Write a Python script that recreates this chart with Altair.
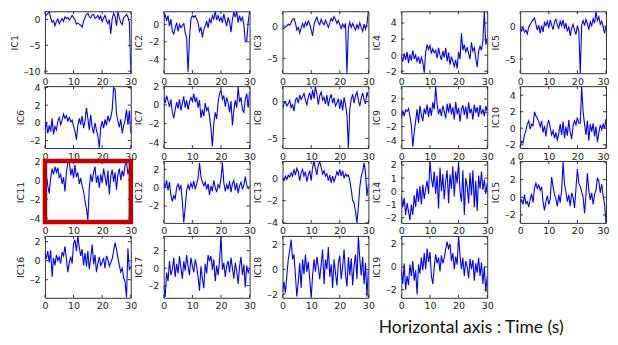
import altair as alt
import pandas as pd

ic1 = [0.6, 0.9, 1.2, 1.5, 0.3, -0.5, -0.2, -1.2, -0.4, 0.1,
       -0.8, -0.3, 0.2, -0.4, 0.5, 0.2, 0.4, -0.1, 0.3, 0.8,
       0.4, 0.0, -0.9, -0.7, -0.9, -1.1, -1.5, -0.3, 0.4, 1.0,
       1.2, 0.5, 0.3, 0.9, 1.0, 0.2, 0.4, 0.8, 0.1, 0.7,
       -0.4, 0.3, 0.8, -0.2, -0.8, 0.0, -2.8, 0.2, 1.2, 0.6,
       -1.2, 1.5, 0.3, -0.6, -1.0, 0.4, 0.6, 1.0, 0.5, -0.5, -10.3]
ic2 = [0.8, 1.1, 0.4, 1.0, -0.2, 0.6, -0.8, -1.1, -0.4, 0.2,
       -0.8, 0.0, -0.4, -0.1, 0.1, -1.0, -1.5, -5.5, -1.5, 0.6,
       1.0, 0.8, 1.0, 0.6, 0.2, -0.8, -0.4, -1.5, -0.6, -0.2,
       0.4, -0.4, 0.6, 0.2, 1.0, 0.6, 1.5, 0.5, 1.0, 0.4,
       0.8, 0.2, 1.2, 0.4, -0.2, 0.8, 0.3, -0.9, 0.6, 1.4,
       0.8, 1.5, 0.2, 1.0, 0.4, 0.8, 0.0, -2.0, -1.9, 0.2, 1.5]
ic3 = [-0.5, -0.3, -0.2, 0.0, 0.3, 0.1, 0.6, 1.0, 1.2, 0.5,
       -0.6, -0.2, -1.1, -0.3, 0.4, -0.2, 0.6, 0.1, 0.8, 0.3,
       -0.6, -1.5, 0.2, 0.9, 1.4, 0.6, 0.2, 1.1, 0.5, 0.2,
       0.9, 0.4, -0.2, 0.5, 1.2, 0.8, 1.5, 1.0, 0.4, 0.9,
       0.2, -0.4, 0.3, -0.2, 0.4, -7.3, -0.3, 0.6, -0.2, 0.4,
       -0.1, -0.6, 0.2, -0.4, 0.5, -0.2, -0.8, 0.3, -0.5, 0.4, 2.3]
ic4 = [-0.2, -0.8, 0.2, -0.6, 0.4, -1.0, 0.1, -0.7, 0.6, -0.5,
       0.0, -0.8, -0.2, -1.1, -0.3, -0.9, -2.2, 0.4, 1.3, 0.7,
       1.2, 0.2, 0.8, 0.3, 0.6, -0.4, 0.9, 0.0, -0.6, 0.5,
       -0.3, 0.9, -0.8, 0.3, -1.2, -0.2, -0.8, -1.4, -0.6, -1.7,
       0.4, -0.5, 2.7, 0.6, 1.3, 0.4, 0.9, 0.2, -0.5, 1.6,
       0.5, 0.9, -0.4, -1.5, 0.5, 1.1, 0.6, 1.8, 5.4, 1.3, 2.0]
ic5 = [-0.2, -0.6, 0.0, -0.8, -0.5, -1.1, 0.0, 0.4, 0.8, 1.1,
       1.4, 0.5, -0.5, 0.3, -1.0, 0.2, -0.8, 0.7, 0.2, 0.9,
       -0.2, 1.1, 0.3, -0.4, 0.8, 1.2, 0.3, -0.2, 0.9, 0.2,
       1.1, -0.3, 0.6, -0.7, 0.1, -1.4, -0.2, 0.4, -0.5, -1.2,
       0.2, -0.6, -7.2, 0.3, 1.0, 0.2, 1.2, 0.5, -0.4, 0.8,
       0.2, 1.3, 0.6, 2.4, 1.0, 1.6, 0.4, 0.9, 0.0, -1.0, 0.3]
ic6 = [-0.9, 0.1, -1.2, -0.3, -1.0, 0.5, -1.3, -0.4, -0.8, 0.2,
       0.6, -0.2, 0.3, 1.0, 0.5, 0.8, 0.2, 0.6, 0.1, 0.3,
       -0.4, -1.0, -1.9, -0.3, 0.5, -0.2, 0.8, -0.6, 0.2, 1.7,
       0.5, -0.8, 0.9, -0.5, -1.2, 0.0, -0.8, -1.5, -2.8, -0.5,
       0.2, -0.6, 0.4, -0.3, 0.8, 0.2, 0.6, 1.5, 4.0, 3.8,
       1.0, 0.2, -0.5, 0.4, -1.2, -0.3, 0.3, 1.5, -0.2, 1.4, -1.2]
ic7 = [0.8, 0.2, 1.0, 0.4, -0.2, 0.6, -0.8, -1.4, -0.5, 0.3,
       -0.4, 0.6, -0.6, 0.2, 0.9, -0.3, 0.5, -0.5, 0.3, 0.8,
       0.4, 1.2, 0.3, 0.8, -0.3, 0.5, -1.4, -0.5, -1.2, 0.2,
       -0.6, -0.3, -1.2, -2.5, -4.4, -2.0, -0.8, -1.5, 0.3, 1.2,
       1.6, 0.6, 1.0, -0.2, 0.8, 0.2, -0.8, 0.4, -2.2, -0.6,
       0.5, -0.3, 1.9, 0.3, 0.8, -0.5, -0.8, 0.6, 1.2, -0.3, 1.5]
ic8 = [-0.9, -0.3, 0.0, -0.6, -0.3, 0.2, -0.8, -0.4, -1.3, 0.2,
       0.5, -0.2, 0.9, 0.3, 0.7, 1.1, 0.2, -0.5, 0.6, 1.2,
       0.2, 1.6, 0.4, 2.0, 1.0, -0.4, 0.8, 1.3, 0.2, 0.6,
       -0.3, 0.9, -0.6, 0.4, 1.0, -0.2, 0.5, -0.6, -0.2, 0.4,
       -1.0, 0.3, -1.2, 0.6, -0.4, -1.8, -6.3, -1.0, 0.3, 1.0,
       -0.2, 0.8, 1.3, 0.2, -0.6, 0.5, 1.2, 0.2, -0.3, 1.3, 0.6]
ic9 = [-0.8, 0.3, -0.5, 0.4, 0.2, 0.6, -0.5, -1.8, -4.9, -2.8,
       -1.2, 0.5, -1.5, 1.0, -0.3, -1.2, 0.6, -0.2, 1.2, -0.6,
       0.8, -0.4, 1.5, 0.5, 3.8, 1.2, -0.2, 0.6, -0.5, 1.0,
       0.2, -0.8, 1.3, 0.0, 1.4, -0.2, 0.8, -1.0, 1.6, -0.2,
       0.7, -1.3, 0.5, 1.1, -0.3, 0.9, -0.9, 1.5, -0.1, 0.6,
       -1.0, 1.2, 0.0, 0.8, -0.6, 1.1, -0.2, 0.5, -0.5, 1.0, 0.2]
ic10 = [-2.2, -1.6, -1.8, -0.8, -0.3, 0.5, 0.9, -0.1, 0.5, 0.3,
        2.0, 1.5, 1.2, 0.8, 0.2, 0.9, -0.5, 0.3, -1.0, 0.4,
        1.0, 0.1, -0.8, -0.3, -1.2, -0.5, -1.5, -0.6, 0.5, -0.8,
        0.8, -1.2, 0.2, -0.9, 1.0, -0.5, -1.3, 0.3, 0.9, 0.4,
        1.3, 0.6, 0.6, 5.0, 2.0, 0.5, -0.8, 0.9, -1.5, 0.5,
        -0.4, 0.6, -1.0, 0.2, -1.7, -0.5, 0.4, -0.2, 0.5, 0.0, 1.1]
ic11 = [0.0, 0.5, -0.6, -1.4, 0.2, 1.2, 0.6, 1.4, 0.8, 1.3,
        0.2, 0.6, -0.4, 0.3, -1.2, 0.8, 1.8, 2.0, 0.5, 1.2,
        0.2, 1.6, 0.3, 0.8, -0.4, 0.2, -0.6, -1.2, -2.2, -3.0,
        -4.2, -0.8, 0.6, -0.2, 0.8, 1.4, -0.3, 0.5, -0.8, 0.6,
        -0.3, 1.2, 0.3, -0.6, 1.0, -1.5, 0.4, 1.1, -0.2, 0.8,
        -1.0, 0.6, 1.2, 0.0, 1.0, 0.4, 1.6, 1.9, 0.6, 1.2, -0.9]
ic12 = [0.5, 0.0, 0.8, -0.3, 0.6, -0.8, -1.5, -0.9, -1.2, 0.0,
        0.4, -0.2, 0.3, -1.5, -3.8, -2.2, -0.3, 0.3, -0.2, 0.5,
        0.0, 0.7, -0.2, 0.4, 1.0, 2.7, 1.2, 0.6, 0.2, 0.6,
        -0.2, 0.4, -0.8, 0.2, -0.4, 0.8, 0.0, -0.5, 0.3, 0.0,
        1.0, 2.7, 0.5, -0.4, 0.3, -0.2, 0.7, -0.5, 0.4, 0.8,
        -0.3, 0.5, -0.6, 0.2, 0.6, -0.2, 0.3, 1.2, 0.3, -0.1, 0.2]
ic13 = [0.0, -0.2, 0.2, -0.1, 0.3, 0.1, 0.5, 0.2, 0.8, 0.3,
        0.9, 0.6, -0.2, 0.5, 0.8, 0.2, 0.6, -0.3, 0.3, 0.7,
        -0.2, 1.0, 1.5, 0.9, 0.3, 1.2, 1.5, 1.0, 0.4, 0.7,
        0.2, 0.4, -0.2, 0.3, -0.4, 0.2, -0.3, 0.1, 0.6, 0.3,
        0.8, 0.2, 0.7, 0.0, 0.4, 0.2, 0.3, -0.2, -1.0, -2.0,
        -2.2, -3.0, -4.0, -2.5, -0.8, 0.2, 0.6, 1.4, 0.5, -1.6, -0.5]
ic14 = [-0.4, -1.2, -0.5, -1.8, -0.9, -1.5, -2.2, -1.0, -1.8, -0.3,
        -1.2, 0.2, -0.8, 0.4, -1.0, 0.5, -0.6, 0.2, 0.8, -0.2,
        2.3, 1.0, 0.3, 1.5, -0.2, 1.2, -1.3, 1.8, 0.0, 1.3,
        -0.6, 0.8, 1.6, -0.9, 1.3, 0.2, 1.9, -0.4, 1.5, 0.6,
        2.2, 0.0, -0.8, 1.6, -1.8, 1.0, 0.4, -0.9, 1.4, -0.3,
        1.6, -1.2, 0.8, -1.5, 1.2, 0.2, 1.5, 0.1, 0.9, -0.2, 0.6]
ic15 = [-0.6, -0.3, -0.8, 0.3, -0.7, -0.5, -1.1, -0.2, 0.4, -0.6,
        1.0, 1.6, 1.0, 1.4, 0.8, 1.2, -0.5, -1.5, -0.5, 0.2,
        -0.8, -0.2, 2.3, 1.2, 0.3, -0.2, -1.0, 0.3, -0.6, 0.8,
        4.0, 1.5, 0.6, -0.5, 0.3, -1.0, 0.5, 0.0, -1.2, 1.0,
        3.2, 1.6, 1.2, 0.6, 0.0, -1.8, 0.3, 2.7, 0.8, -0.3,
        0.5, -0.8, 0.3, 0.8, 2.2, 1.8, 0.5, 1.5, 0.2, -0.8, -2.9]
ic16 = [0.8, 0.2, 1.0, -0.2, 1.1, -1.7, 0.3, -0.5, 0.6, 0.0,
        0.4, -0.3, 0.9, 0.5, 1.5, 0.2, -1.2, -0.2, 0.4, -0.3,
        1.8, 2.2, 1.0, 2.6, 1.4, 0.5, 1.2, -0.5, 0.8, -0.6,
        1.0, -0.9, 0.3, 1.7, -0.4, 0.6, -1.2, -0.3, 0.4, -0.5,
        -0.2, 0.3, -0.8, 0.5, 0.1, -0.6, -0.2, 0.2, 1.0, 1.9,
        1.2, 0.3, -0.5, -1.2, -0.8, -1.8, -2.2, -3.9, 1.3, -1.0, -0.6]
ic17 = [-2.0, -3.3, -0.5, -1.5, 0.8, -0.8, -0.2, 1.2, -1.0, 0.5,
        -0.6, 1.4, 0.0, -1.2, 0.8, -0.3, 1.5, 0.2, -0.8, 1.2,
        0.3, -0.5, 1.0, 0.2, -1.0, -2.6, 0.2, -1.2, -2.3, 0.5,
        -0.6, 1.5, 0.8, 1.4, -0.2, 1.0, -1.5, 0.3, -0.8, 0.8,
        3.7, -0.2, 0.6, -1.0, 0.3, 0.8, -0.5, 1.2, 0.0, -1.2,
        0.6, -0.3, -1.8, 0.2, 1.3, -0.8, 0.4, -2.2, 0.3, -0.5, 0.0]
ic18 = [-1.8, -1.0, -1.9, -0.5, 0.8, 1.5, 2.4, 0.8, 1.2, -0.5,
        -2.2, -1.0, 0.5, -1.5, 0.8, -0.4, 1.2, -0.2, 0.6, -0.8,
        -2.3, -0.5, 0.8, -0.2, 1.0, 0.2, -0.8, 0.4, 1.6, -1.2,
        0.8, 0.0, 1.8, -0.6, 0.4, -1.5, 0.8, -0.3, -1.3, 0.5,
        1.1, -0.8, 0.2, 1.6, -0.4, -1.4, 1.0, -0.5, 0.9, -1.3,
        0.3, 1.2, -0.8, 2.7, 0.8, -0.5, 1.0, -1.2, 0.5, -2.2, 0.0]
ic19 = [-0.3, -1.5, 0.3, -2.0, -0.8, -1.6, 0.2, -0.8, 0.5, -1.2,
        -0.3, -2.4, 0.2, -0.6, 0.8, -0.3, 1.2, -0.2, 1.6, 0.4,
        1.3, -0.8, -1.5, 0.0, 1.1, 0.3, 0.8, -0.4, 1.0, 0.3,
        0.8, 1.5, 2.2, 1.6, 2.0, 0.5, 1.2, -0.2, 0.9, 0.2,
        2.7, 1.0, -0.2, 0.8, -0.8, 0.5, 0.0, -1.0, 0.7, -0.2,
        0.6, -1.2, 0.3, -0.5, 0.8, -0.8, 0.4, -1.5, 0.0, -2.2, -0.8]

SERIES = [ic1, ic2, ic3, ic4, ic5, ic6, ic7, ic8, ic9, ic10,
          ic11, ic12, ic13, ic14, ic15, ic16, ic17, ic18, ic19]
NAMES = [f"IC{i}" for i in range(1, 20)]
Y_DOMAINS = [[-10.4, 1.6], [-5.6, 1.5], [-7.3, 2.3], [-2.25, 5.45], [-7.2, 2.45],
             [-2.85, 4.15], [-4.6, 2.0], [-6.3, 2.1], [-5.1, 3.85], [-2.4, 5.1],
             [-4.5, 2.0], [-3.85, 2.9], [-4.0, 1.56], [-2.4, 2.3], [-2.9, 4.1],
             [-3.9, 2.6], [-3.4, 3.7], [-2.3, 2.7], [-2.7, 2.7]]
Y_TICKS = [[0, -5, -10], [0, -2, -4], [0, -5], [4, 2, 0, -2], [0, -5],
           [4, 2, 0, -2], [2, 0, -2, -4], [0, -5], [2, 0, -2, -4], [4, 2, 0, -2],
           [2, 0, -2, -4], [2, 0, -2], [0, -2, -4], [2, 1, 0, -1, -2], [4, 2, 0, -2],
           [2, 0, -2], [2, 0, -2], [2, 0, -2], [2, 0, -2]]
X_TICKS = [0, 10, 20, 30]
T_END = 30
HIGHLIGHT = "IC11"
CAPTION = "Horizontal axis : Time (s)"
COLUMNS = 5

W, H = 86, 62
FRAME = "#333333"
MINUS = "replace(datum.label, '\u2212', '\u2013')"


def panel(i):
    vals = SERIES[i]
    n = len(vals)
    df = pd.DataFrame({"t": [k * T_END / (n - 1) for k in range(n)], "value": vals})
    xs = alt.Scale(domain=[0, T_END], nice=False, zero=False)
    ys = alt.Scale(domain=Y_DOMAINS[i], nice=False, zero=False)
    last_col = (i % COLUMNS) == COLUMNS - 1
    xopts = dict(values=X_TICKS, title=None, labelPadding=3, domain=False, ticks=False,
                 tickSize=0, grid=False, labelOverlap=False)
    if last_col:
        xopts.update(labelFlush=True, labelFlushOffset=3)
    else:
        xopts.update(labelFlush=False)
    xax = alt.Axis(**xopts)
    yax = alt.Axis(values=Y_TICKS[i], title=NAMES[i], labelPadding=5, titlePadding=4,
                   labelExpr=MINUS, domain=False, ticks=False, tickSize=0, grid=False,
                   labelOverlap=False)
    line = alt.Chart(df).mark_line(color="#0000ff", strokeWidth=1.1, clip=True).encode(
        x=alt.X("t:Q", scale=xs, axis=xax, title=None),
        y=alt.Y("value:Q", scale=ys, axis=yax, title=NAMES[i]),
    )
    ytd = pd.DataFrame({"t": [0.0] * len(Y_TICKS[i]), "value": Y_TICKS[i]})
    xtd = pd.DataFrame({"t": X_TICKS, "value": [Y_DOMAINS[i][0]] * len(X_TICKS)})
    yl = alt.Chart(ytd).mark_rule(color=FRAME, strokeWidth=1).encode(
        y=alt.Y("value:Q", scale=ys, axis=yax, title=NAMES[i]), x=alt.value(0), x2=alt.value(3))
    yr = alt.Chart(ytd).mark_rule(color=FRAME, strokeWidth=1).encode(
        y=alt.Y("value:Q", scale=ys, axis=yax, title=NAMES[i]), x=alt.value(W - 3), x2=alt.value(W))
    xb = alt.Chart(xtd).mark_rule(color=FRAME, strokeWidth=1).encode(
        x=alt.X("t:Q", scale=xs, axis=xax, title=None), y=alt.value(H - 3), y2=alt.value(H))
    xt = alt.Chart(xtd).mark_rule(color=FRAME, strokeWidth=1).encode(
        x=alt.X("t:Q", scale=xs, axis=xax, title=None), y=alt.value(0), y2=alt.value(3))
    layers = [line, yl, yr, xb, xt]
    one = pd.DataFrame({"k": [0]})
    if NAMES[i] == HIGHLIGHT:
        layers.append(alt.Chart(one).mark_rect(fillOpacity=0, stroke="#C00000", strokeWidth=4.5).encode(
            x=alt.value(0), x2=alt.value(W), y=alt.value(0), y2=alt.value(H - 1)))
    if i == len(SERIES) - 1:
        layers.append(alt.Chart(one).mark_text(text=CAPTION, font="Lato", fontSize=17.5,
                                               align="center", baseline="alphabetic",
                                               color="#111111").encode(
            x=alt.value(70), y=alt.value(97)))
    return alt.layer(*layers).properties(width=W, height=H)


chart = alt.concat(*[panel(i) for i in range(len(SERIES))], columns=COLUMNS,
                   spacing={"row": 13, "column": 33}, bounds="flush").properties(
    padding={"left": 0, "top": 2, "right": 0, "bottom": 0}
).configure_view(stroke=FRAME, strokeWidth=1).configure_axis(
    labelFont="DejaVu Sans", labelFontSize=9.5, labelColor="#222222",
    titleFont="DejaVu Sans", titleFontSize=9.5, titleFontWeight="normal", titleColor="#222222"
)

chart.save("out.html", embed_options={"renderer": "svg", "actions": False})
